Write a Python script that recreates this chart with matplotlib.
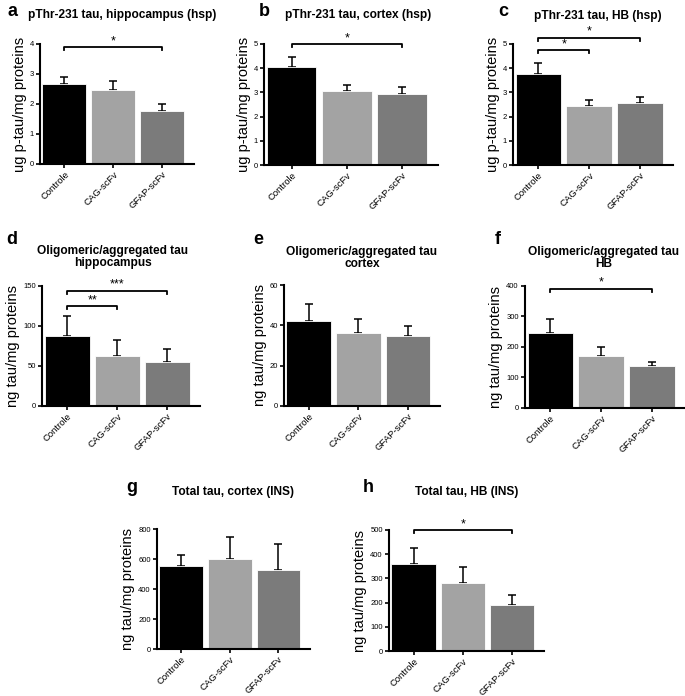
import matplotlib
matplotlib.use("Agg")
import matplotlib.pyplot as plt

plt.rcParams['font.family'] = ['Liberation Sans', 'DejaVu Sans']

groups = ["Controle", "CAG-scFv", "GFAP-scFv"]
colors = ["#000000", "#a3a3a3", "#7b7b7b"]

# values: means, upper error (SEM)
a_mean = [2.66, 2.47, 1.78]
a_err = [0.24, 0.29, 0.22]
b_mean = [4.07, 3.06, 2.95]
b_err = [0.38, 0.26, 0.27]
c_mean = [3.75, 2.43, 2.55]
c_err = [0.46, 0.25, 0.26]
d_mean = [87.5, 62.0, 55.0]
d_err = [25.5, 21.0, 16.0]
e_mean = [42.3, 36.2, 34.7]
e_err = [8.3, 6.9, 4.8]
f_mean = [246, 171, 138]
f_err = [45, 28, 14]
g_mean = [551, 600, 527]
g_err = [73, 147, 171]
h_mean = [358, 282, 189]
h_err = [68, 66, 44]

W, H = 685, 696
fig = plt.figure(figsize=(W / 100, H / 100), dpi=100)


def px_axes(left, top, right, bottom):
    return fig.add_axes([left / W, 1 - bottom / H, (right - left) / W, (bottom - top) / H])


def sig(ax, x1, x2, y, stars, cap):
    ax.plot([x1, x1, x2, x2], [y - cap, y, y, y - cap], color="black", lw=1.3, clip_on=False)
    ax.text((x1 + x2) / 2, y, stars, ha="center", va="bottom", fontsize=9, clip_on=False)


def panel(box, means, errs, ymax, step, ylabel, letter, letter_xy, title, title_xy, sigs=()):
    ax = px_axes(*box)
    x = range(len(groups))
    ax.bar(x, means, width=0.9, color=colors, edgecolor="white", linewidth=0.6, zorder=2)
    ax.errorbar(x, means, yerr=[[0] * 3, errs], fmt="none", ecolor="black",
                elinewidth=1.1, capsize=3, capthick=1.1, zorder=1)
    ax.set_xlim(-0.5, 2.65)
    ax.set_ylim(0, ymax)
    yt = [i * step for i in range(int(round(ymax / step)) + 1)]
    ax.set_yticks(yt)
    ax.set_yticklabels([str(int(v)) for v in yt], fontsize=5.5)
    ax.set_xticks(list(x))
    ax.set_xticklabels(groups, rotation=45, ha="right", rotation_mode="anchor", fontsize=6.8)
    for s in ["top", "right"]:
        ax.spines[s].set_visible(False)
    for s in ["left", "bottom"]:
        ax.spines[s].set_linewidth(1.5)
    ax.tick_params(axis="both", width=1.2, length=3, pad=1.5)
    ax.tick_params(axis="x", pad=1)
    ax.set_ylabel(ylabel, fontsize=10.5, labelpad=2)
    for x1, x2, y, stars in sigs:
        sig(ax, x1, x2, y, stars, ymax * 0.025)
    fig.text(letter_xy[0] / W, 1 - letter_xy[1] / H, letter, fontsize=13, fontweight="bold",
             ha="center", va="center")
    fig.text(title_xy[0] / W, 1 - title_xy[1] / H, title, fontsize=8.6, fontweight="bold",
             ha="center", va="center", linespacing=1.1)
    return ax


ylab1 = "ug p-tau/mg proteins"
ylab2 = "ng tau/mg proteins"

panel((40, 44, 194, 164), a_mean, a_err, 4, 1, ylab1, "a", (12, 12),
      "pThr-231 tau, hippocampus (hsp)", (122, 15), [(0, 2, 3.9, "*")])
panel((264, 44, 438, 165), b_mean, b_err, 5, 1, ylab1, "b", (264, 12),
      "pThr-231 tau, cortex (hsp)", (358, 15), [(0, 2, 5.0, "*")])
panel((513, 44, 673, 165), c_mean, c_err, 5, 1, ylab1, "c", (503, 12),
      "pThr-231 tau, HB (hsp)", (598, 16), [(0, 1, 4.75, "*"), (0, 2, 5.26, "*")])
panel((42, 286, 200, 406), d_mean, d_err, 150, 50, ylab2, "d", (12, 240),
      "Oligomeric/aggregated tau\nhippocampus", (113, 257),
      [(0, 1, 125, "**"), (0, 2, 144, "***")])
panel((284, 285, 440, 406), e_mean, e_err, 60, 20, ylab2, "e", (258, 240),
      "Oligomeric/aggregated tau\ncortex", (362, 258))
panel((525, 286, 685, 408), f_mean, f_err, 400, 100, ylab2, "f", (498, 240),
      "Oligomeric/aggregated tau\nHB", (604, 258), [(0, 2, 391, "*")])
panel((157, 529, 310, 649), g_mean, g_err, 800, 200, ylab2, "g", (132, 487),
      "Total tau, cortex (INS)", (233, 492))
panel((389, 530, 544, 651), h_mean, h_err, 500, 100, ylab2, "h", (368, 487),
      "Total tau, HB (INS)", (467, 492), [(0, 2, 500, "*")])

fig.savefig("out.png", dpi=100, facecolor="white")
